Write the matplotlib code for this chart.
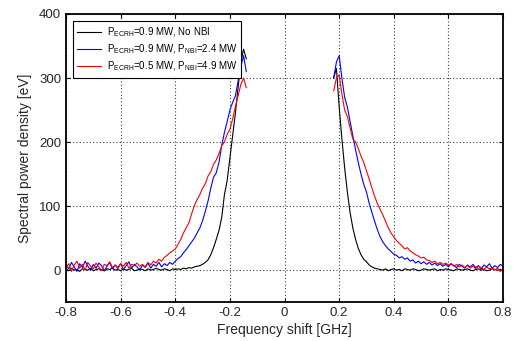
import numpy as np
import matplotlib
matplotlib.use("Agg")
import matplotlib.pyplot as plt

plt.rcParams['font.family'] = ['Liberation Sans', 'DejaVu Sans']
plt.rcParams['mathtext.fontset'] = 'custom'
plt.rcParams['mathtext.rm'] = 'Liberation Sans'

# frequency grids (GHz), 0.01 step, left and right of the gap
freq_left = np.round(np.arange(-0.80, -0.135, 0.01), 2)
freq_right = np.round(np.arange(0.18, 0.805, 0.01), 2)

# P_ECRH=0.9 MW, no NBI (black)
black_left = [2, -1, 3, 0, 1, -2, 2, 1, 0, 3, -1, 1, 2, 0, -1, 2, 1, 3, 0, 1,
              -1, 2, 0, 1, 3, -1, 0, 2, 1, -1, 2, 0, 1, 3, 1, 0, 2, 1, -1, 2, 1,
              2, 1, 3, 2, 4, 3, 5, 6, 7, 9, 12, 16, 24, 35, 48, 62, 82, 118,
              140, 175, 210, 245, 285, 325, 345, 330]
black_right = [300, 315, 255, 205, 160, 122, 90, 66, 48, 34, 24, 17, 13, 8, 5,
               3, 2,
               1, 0, 2, -1, 1, 2, 0, 1, -1, 2, 1, 0, 2, 1, -1, 0, 2, 1, 0, 1,
               2, -1, 1, 0, 2, 1, 0, -1, 2, 1, 0, 1, 2, 0, -1, 1, 2, 0, 1, -1,
               0, 2, 1, 0, 1, -1]

# P_ECRH=0.9 MW, P_NBI=2.4 MW (blue)
blue_left = [8, 2, 12, 5, -2, 10, 4, 14, 6, 0, 9, 3, 11, 7, -1, 6, 12, 2, 8, 4,
             10, 1, 7, 13, 3, 9, 5, 0, 8, 4, 11,
             3, 9, 6, 12, 5, 10, 7, 12, 9, 14, 18, 21, 27, 32, 38, 44, 50, 58,
             66, 77, 92, 108, 128, 145, 152, 168, 195, 215, 232, 250, 262, 272,
             295, 318, 335, 310]
blue_right = [300, 325, 335, 300, 270, 255, 232, 210, 188, 168, 150, 134, 122,
              104, 90, 76, 63, 52, 44, 38, 33, 29, 25, 23, 19, 21, 17, 19, 14,
              16, 11, 14, 10, 13, 9, 12, 8, 11, 7, 10, 6, 9, 5, 10, 7, 4, 9, 6,
              3, 8, 5, 9, 4, 7, 2, 8, 5, 10, 3, 7, 4, 9, 6]

# P_ECRH=0.5 MW, P_NBI=4.9 MW (red)
red_left = [4, 10, -2, 8, 14, 3, 9, 0, 12, 6, 2, 11, 5, -1, 9, 7, 13, 4, 8, 2,
            10, 6, 12, 3, 9, 7,
            11, 6, 9, 5, 12, 8, 14, 11, 17, 14, 20, 23, 27, 30, 33, 40, 48, 58,
            66, 74, 88, 101, 110, 118, 128, 135, 147, 154, 165, 172, 182, 194,
            200, 212, 220, 236, 255, 272, 290, 300, 285]
red_right = [280, 300, 305, 275, 250, 240, 222, 205, 200, 190, 178, 168, 155,
             142, 128, 115, 104, 95, 86, 76, 66, 58, 52, 46, 42, 38, 33, 35,
             30, 27, 24, 22, 19, 20, 16, 15, 12, 14, 10, 12, 9, 11, 8, 10, 6,
             9, 5, 8, 4, 7, 3, 6, 2, 6, 4, 1, 5, 2, 4, 0, 3, -2, 1]

labels = [r'P$_{\rm ECRH}$=0.9 MW, No NBI',
          r'P$_{\rm ECRH}$=0.9 MW, P$_{\rm NBI}$=2.4 MW',
          r'P$_{\rm ECRH}$=0.5 MW, P$_{\rm NBI}$=4.9 MW']

fig = plt.figure(figsize=(5.24, 3.41), dpi=100)
ax = fig.add_axes([0.126, 0.114, 0.834, 0.845])

series = [(black_left, black_right, 'k'),
          (blue_left, blue_right, 'b'),
          (red_left, red_right, 'r')]
handles = []
for (yl, yr, c), lab in zip(series, labels):
    h, = ax.plot(freq_left, yl, color=c, lw=0.8, label=lab)
    ax.plot(freq_right, yr, color=c, lw=0.8)
    handles.append(h)

ax.set_xlim(-0.8, 0.8)
ax.set_ylim(-50, 400)
ax.set_xticks([-0.8, -0.6, -0.4, -0.2, 0, 0.2, 0.4, 0.6, 0.8])
ax.set_xticklabels(['-0.8', '-0.6', '-0.4', '-0.2', '0', '0.2', '0.4', '0.6', '0.8'])
ax.set_yticks([0, 100, 200, 300, 400])
ax.grid(True, color='0.25', linestyle=(0, (1, 2)), lw=0.8)
ax.tick_params(direction='in', top=True, right=True, length=3, labelsize=9.5,
               labelcolor='0.15')
for s in ax.spines.values():
    s.set_linewidth(1.3)

ax.set_xlabel('Frequency shift [GHz]', fontsize=10, labelpad=3, color='0.15')
ax.set_ylabel('Spectral power density [eV]', fontsize=10, labelpad=5, color='0.15')

leg = ax.legend(handles=handles, loc='upper left', bbox_to_anchor=(0.016, 0.976),
                borderaxespad=0, fontsize=7, fancybox=False, framealpha=1,
                edgecolor='k', handlelength=2.4, labelspacing=0.38,
                borderpad=0.45, handletextpad=0.6)
leg.get_frame().set_linewidth(0.8)

fig.savefig('out.png', dpi=100)
